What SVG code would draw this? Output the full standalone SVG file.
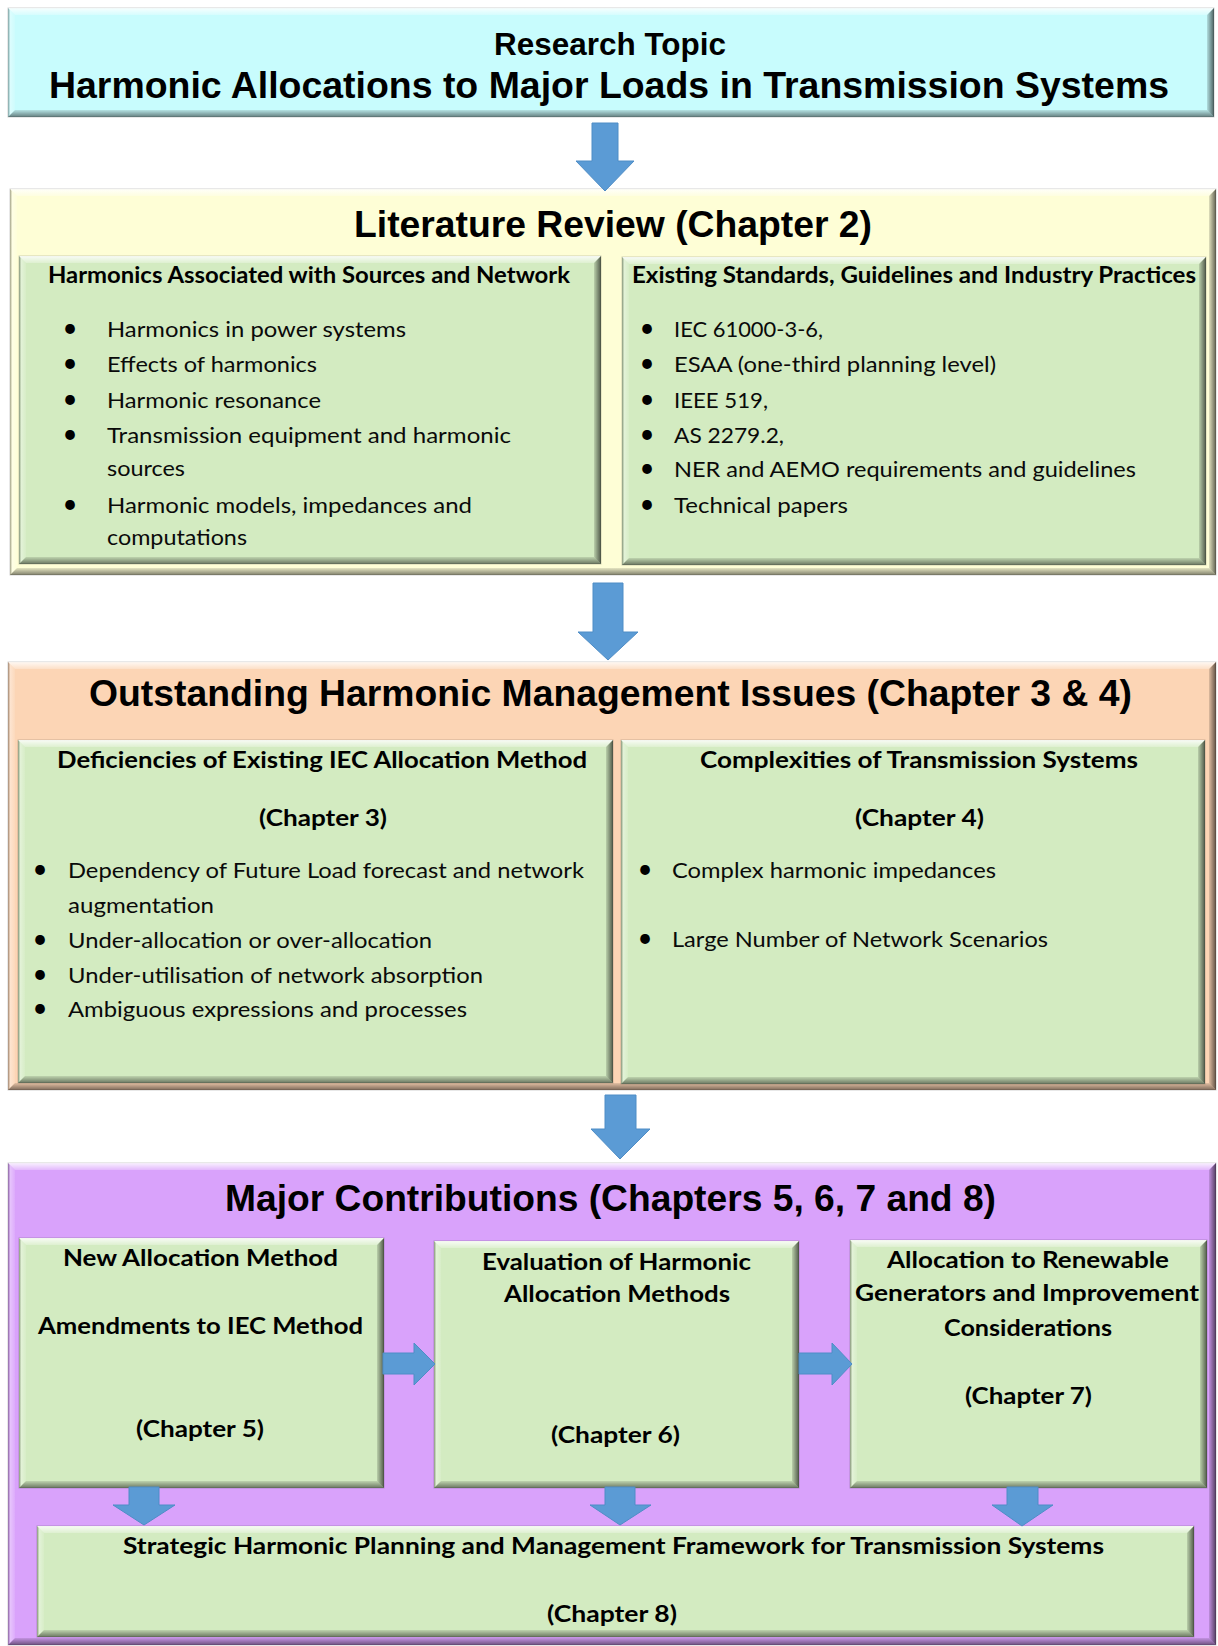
<svg xmlns="http://www.w3.org/2000/svg" width="1218" height="1646" viewBox="0 0 1218 1646">
<style>
.ttl{font-family:"Liberation Sans",Arial,sans-serif;font-weight:bold;fill:#000}
.t31{font-size:31px}.t37{font-size:37px}.t36{font-size:36px}
.hd{font-family:Lato,"Open Sans",sans-serif;font-weight:bold;font-size:22px;fill:#000}
.tx{font-family:Lato,"Open Sans",sans-serif;font-size:22px;fill:#0a0a0a}
.bu{font-family:Lato,"Open Sans",sans-serif;font-size:26px;fill:#000;text-anchor:middle}
.cy,.ye,.pe,.pu,.gr{stroke:#000;stroke-opacity:0.18;stroke-width:1}
.cy{fill:#c8fcfd}.ye{fill:#fefed6}.pe{fill:#fcd5b5}.pu{fill:#d9a2fb}.gr{fill:#d3ebc1}
.bt{fill:url(#gT)}.bl{fill:url(#gL)}.bb{fill:url(#gB)}.br{fill:url(#gR)}
.arr{fill:#5b9bd5;stroke:#4f8dc6;stroke-width:1}
</style>
<defs>
<linearGradient id="gT" x1="0" y1="0" x2="0" y2="1"><stop offset="0" stop-color="#fff" stop-opacity="0.85"/><stop offset="1" stop-color="#fff" stop-opacity="0.25"/></linearGradient>
<linearGradient id="gL" x1="0" y1="0" x2="1" y2="0"><stop offset="0" stop-color="#000" stop-opacity="0.25"/><stop offset="0.35" stop-color="#fff" stop-opacity="0.35"/><stop offset="1" stop-color="#fff" stop-opacity="0.1"/></linearGradient>
<linearGradient id="gB" x1="0" y1="0" x2="0" y2="1"><stop offset="0" stop-color="#000" stop-opacity="0.1"/><stop offset="1" stop-color="#000" stop-opacity="0.5"/></linearGradient>
<linearGradient id="gR" x1="0" y1="0" x2="1" y2="0"><stop offset="0" stop-color="#000" stop-opacity="0.12"/><stop offset="1" stop-color="#000" stop-opacity="0.62"/></linearGradient>
</defs>

<g id="research-topic">
<rect class="cy" x="8" y="8" width="1206" height="109"/>
<polygon class="bt" points="8,8 1214,8 1207,15 15,15"/>
<polygon class="bl" points="8,8 15,15 15,110 8,117"/>
<polygon class="bb" points="8,117 15,110 1207,110 1214,117"/>
<polygon class="br" points="1214,8 1214,117 1207,110 1207,15"/>
<text class="ttl t31" x="494" y="55" textLength="232" lengthAdjust="spacingAndGlyphs">Research Topic</text>
<text class="ttl t37" x="49" y="98" textLength="1120" lengthAdjust="spacingAndGlyphs">Harmonic Allocations to Major Loads in Transmission Systems</text>
</g>

<g id="literature-review">
<rect class="ye" x="10" y="189" width="1206" height="386"/>
<polygon class="bt" points="10,189 1216,189 1209,196 17,196"/>
<polygon class="bl" points="10,189 17,196 17,568 10,575"/>
<polygon class="bb" points="10,575 17,568 1209,568 1216,575"/>
<polygon class="br" points="1216,189 1216,575 1209,568 1209,196"/>
<text class="ttl t36" x="354" y="237" textLength="518" lengthAdjust="spacingAndGlyphs">Literature Review (Chapter 2)</text>
</g>

<g id="harmonics-sources">
<rect class="gr" x="19" y="256" width="582" height="308"/>
<polygon class="bt" points="19,256 601,256 594,263 26,263"/>
<polygon class="bl" points="19,256 26,263 26,557 19,564"/>
<polygon class="bb" points="19,564 26,557 594,557 601,564"/>
<polygon class="br" points="601,256 601,564 594,557 594,263"/>
<text class="hd" x="48" y="283" textLength="522" lengthAdjust="spacingAndGlyphs">Harmonics Associated with Sources and Network</text>
<text class="bu" x="70" y="337">•</text><text class="tx" x="107" y="337" textLength="299" lengthAdjust="spacingAndGlyphs">Harmonics in power systems</text>
<text class="bu" x="70" y="372">•</text><text class="tx" x="107" y="372" textLength="210" lengthAdjust="spacingAndGlyphs">Effects of harmonics</text>
<text class="bu" x="70" y="408">•</text><text class="tx" x="107" y="408" textLength="214" lengthAdjust="spacingAndGlyphs">Harmonic resonance</text>
<text class="bu" x="70" y="443">•</text><text class="tx" x="107" y="443" textLength="404" lengthAdjust="spacingAndGlyphs">Transmission equipment  and harmonic</text>
<text class="tx" x="107" y="476" textLength="78" lengthAdjust="spacingAndGlyphs">sources</text>
<text class="bu" x="70" y="513">•</text><text class="tx" x="107" y="513" textLength="365" lengthAdjust="spacingAndGlyphs">Harmonic models, impedances  and</text>
<text class="tx" x="107" y="545" textLength="140" lengthAdjust="spacingAndGlyphs">computations</text>
</g>

<g id="existing-standards">
<rect class="gr" x="622" y="257" width="584" height="308"/>
<polygon class="bt" points="622,257 1206,257 1199,264 629,264"/>
<polygon class="bl" points="622,257 629,264 629,558 622,565"/>
<polygon class="bb" points="622,565 629,558 1199,558 1206,565"/>
<polygon class="br" points="1206,257 1206,565 1199,558 1199,264"/>
<text class="hd" x="632" y="283" textLength="564" lengthAdjust="spacingAndGlyphs">Existing Standards, Guidelines and Industry Practices</text>
<text class="bu" x="647" y="337">•</text><text class="tx" x="674" y="337" textLength="149" lengthAdjust="spacingAndGlyphs">IEC 61000-3-6,</text>
<text class="bu" x="647" y="372">•</text><text class="tx" x="674" y="372" textLength="322" lengthAdjust="spacingAndGlyphs">ESAA (one-third  planning  level)</text>
<text class="bu" x="647" y="408">•</text><text class="tx" x="674" y="408" textLength="94" lengthAdjust="spacingAndGlyphs">IEEE 519,</text>
<text class="bu" x="647" y="443">•</text><text class="tx" x="674" y="443" textLength="110" lengthAdjust="spacingAndGlyphs">AS 2279.2,</text>
<text class="bu" x="647" y="477">•</text><text class="tx" x="674" y="477" textLength="462" lengthAdjust="spacingAndGlyphs">NER and AEMO requirements  and guidelines</text>
<text class="bu" x="647" y="513">•</text><text class="tx" x="674" y="513" textLength="174" lengthAdjust="spacingAndGlyphs">Technical papers</text>
</g>

<g id="outstanding-issues">
<rect class="pe" x="8" y="662" width="1208" height="428"/>
<polygon class="bt" points="8,662 1216,662 1209,669 15,669"/>
<polygon class="bl" points="8,662 15,669 15,1083 8,1090"/>
<polygon class="bb" points="8,1090 15,1083 1209,1083 1216,1090"/>
<polygon class="br" points="1216,662 1216,1090 1209,1083 1209,669"/>
<text class="ttl t36" x="89" y="706" textLength="1043" lengthAdjust="spacingAndGlyphs">Outstanding  Harmonic  Management  Issues  (Chapter  3 &amp; 4)</text>
</g>

<g id="deficiencies-iec">
<rect class="gr" x="18" y="740" width="595" height="343"/>
<polygon class="bt" points="18,740 613,740 606,747 25,747"/>
<polygon class="bl" points="18,740 25,747 25,1076 18,1083"/>
<polygon class="bb" points="18,1083 25,1076 606,1076 613,1083"/>
<polygon class="br" points="613,740 613,1083 606,1076 606,747"/>
<text class="hd" x="57" y="768" textLength="530" lengthAdjust="spacingAndGlyphs">Deficiencies of Existing IEC Allocation Method</text>
<text class="hd" x="259" y="826" textLength="128" lengthAdjust="spacingAndGlyphs">(Chapter 3)</text>
<text class="bu" x="40" y="878">•</text><text class="tx" x="68" y="878" textLength="516" lengthAdjust="spacingAndGlyphs">Dependency of Future Load forecast and network</text>
<text class="tx" x="68" y="913" textLength="146" lengthAdjust="spacingAndGlyphs">augmentation</text>
<text class="bu" x="40" y="948">•</text><text class="tx" x="68" y="948" textLength="364" lengthAdjust="spacingAndGlyphs">Under-allocation or over-allocation</text>
<text class="bu" x="40" y="983">•</text><text class="tx" x="68" y="983" textLength="415" lengthAdjust="spacingAndGlyphs">Under-utilisation of network absorption</text>
<text class="bu" x="40" y="1017">•</text><text class="tx" x="68" y="1017" textLength="399" lengthAdjust="spacingAndGlyphs">Ambiguous expressions and processes</text>
</g>

<g id="complexities-transmission">
<rect class="gr" x="621" y="740" width="584" height="344"/>
<polygon class="bt" points="621,740 1205,740 1198,747 628,747"/>
<polygon class="bl" points="621,740 628,747 628,1077 621,1084"/>
<polygon class="bb" points="621,1084 628,1077 1198,1077 1205,1084"/>
<polygon class="br" points="1205,740 1205,1084 1198,1077 1198,747"/>
<text class="hd" x="700" y="768" textLength="438" lengthAdjust="spacingAndGlyphs">Complexities of Transmission  Systems</text>
<text class="hd" x="855" y="826" textLength="129" lengthAdjust="spacingAndGlyphs">(Chapter 4)</text>
<text class="bu" x="645" y="878">•</text><text class="tx" x="672" y="878" textLength="324" lengthAdjust="spacingAndGlyphs">Complex harmonic impedances</text>
<text class="bu" x="645" y="947">•</text><text class="tx" x="672" y="947" textLength="376" lengthAdjust="spacingAndGlyphs">Large Number of Network Scenarios</text>
</g>

<g id="major-contributions">
<rect class="pu" x="8" y="1163" width="1208" height="482"/>
<polygon class="bt" points="8,1163 1216,1163 1209,1170 15,1170"/>
<polygon class="bl" points="8,1163 15,1170 15,1638 8,1645"/>
<polygon class="bb" points="8,1645 15,1638 1209,1638 1216,1645"/>
<polygon class="br" points="1216,1163 1216,1645 1209,1638 1209,1170"/>
<text class="ttl t36" x="225" y="1211" textLength="771" lengthAdjust="spacingAndGlyphs">Major Contributions  (Chapters  5, 6, 7 and 8)</text>
</g>

<g id="new-allocation-method">
<rect class="gr" x="19" y="1238" width="365" height="250"/>
<polygon class="bt" points="19,1238 384,1238 377,1245 26,1245"/>
<polygon class="bl" points="19,1238 26,1245 26,1481 19,1488"/>
<polygon class="bb" points="19,1488 26,1481 377,1481 384,1488"/>
<polygon class="br" points="384,1238 384,1488 377,1481 377,1245"/>
<text class="hd" x="63" y="1266" textLength="275" lengthAdjust="spacingAndGlyphs">New Allocation  Method</text>
<text class="hd" x="38" y="1334" textLength="325" lengthAdjust="spacingAndGlyphs">Amendments to IEC Method</text>
<text class="hd" x="136" y="1437" textLength="128" lengthAdjust="spacingAndGlyphs">(Chapter 5)</text>
</g>

<g id="evaluation-methods">
<rect class="gr" x="434" y="1241" width="365" height="247"/>
<polygon class="bt" points="434,1241 799,1241 792,1248 441,1248"/>
<polygon class="bl" points="434,1241 441,1248 441,1481 434,1488"/>
<polygon class="bb" points="434,1488 441,1481 792,1481 799,1488"/>
<polygon class="br" points="799,1241 799,1488 792,1481 792,1248"/>
<text class="hd" x="482" y="1270" textLength="269" lengthAdjust="spacingAndGlyphs">Evaluation  of Harmonic</text>
<text class="hd" x="504" y="1302" textLength="226" lengthAdjust="spacingAndGlyphs">Allocation Methods</text>
<text class="hd" x="551" y="1443" textLength="129" lengthAdjust="spacingAndGlyphs">(Chapter 6)</text>
</g>

<g id="renewable-generators">
<rect class="gr" x="850" y="1240" width="357" height="248"/>
<polygon class="bt" points="850,1240 1207,1240 1200,1247 857,1247"/>
<polygon class="bl" points="850,1240 857,1247 857,1481 850,1488"/>
<polygon class="bb" points="850,1488 857,1481 1200,1481 1207,1488"/>
<polygon class="br" points="1207,1240 1207,1488 1200,1481 1200,1247"/>
<text class="hd" x="887" y="1268" textLength="282" lengthAdjust="spacingAndGlyphs">Allocation to Renewable</text>
<text class="hd" x="855" y="1301" textLength="344" lengthAdjust="spacingAndGlyphs">Generators and Improvement</text>
<text class="hd" x="944" y="1336" textLength="168" lengthAdjust="spacingAndGlyphs">Considerations</text>
<text class="hd" x="965" y="1404" textLength="127" lengthAdjust="spacingAndGlyphs">(Chapter 7)</text>
</g>

<g id="strategic-framework">
<rect class="gr" x="37" y="1526" width="1157" height="111"/>
<polygon class="bt" points="37,1526 1194,1526 1187,1533 44,1533"/>
<polygon class="bl" points="37,1526 44,1533 44,1630 37,1637"/>
<polygon class="bb" points="37,1637 44,1630 1187,1630 1194,1637"/>
<polygon class="br" points="1194,1526 1194,1637 1187,1630 1187,1533"/>
<text class="hd" x="123" y="1554" textLength="981" lengthAdjust="spacingAndGlyphs">Strategic  Harmonic  Planning  and  Management  Framework  for  Transmission  Systems</text>
<text class="hd" x="547" y="1622" textLength="130" lengthAdjust="spacingAndGlyphs">(Chapter 8)</text>
</g>

<g id="connectors">
<path class="arr" d="M592,123 H618 V161 H634 L605,191 L576,161 H592 Z"/>
<path class="arr" d="M593,583 H623 V632 H638 L608,660 L578,632 H593 Z"/>
<path class="arr" d="M605,1095 H636 V1129 H650 L620,1159 L591,1129 H605 Z"/>
<path class="arr" d="M383,1353 H414 V1343 L435,1364 L414,1385 V1374 H383 Z"/>
<path class="arr" d="M799,1353 H832 V1343 L852,1364 L832,1385 V1374 H799 Z"/>
<path class="arr" d="M129,1487 H159 V1505 H175 L144,1525 L113,1505 H129 Z"/>
<path class="arr" d="M605,1487 H635 V1505 H651 L620,1525 L590,1505 H605 Z"/>
<path class="arr" d="M1007,1487 H1038 V1505 H1053 L1022,1526 L992,1505 H1007 Z"/>
</g>
</svg>
